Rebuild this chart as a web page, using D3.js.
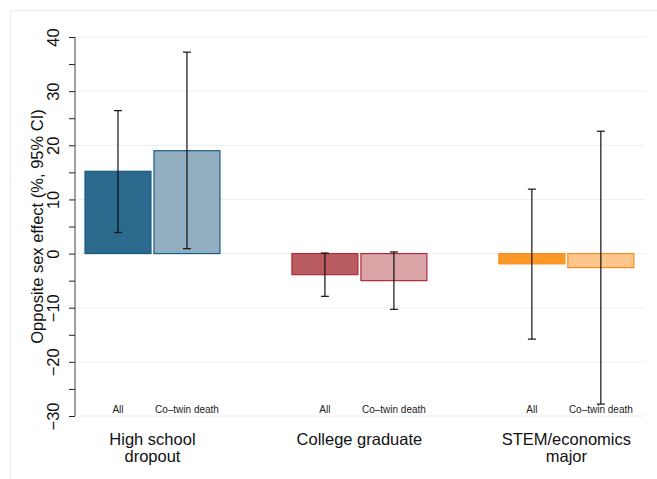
<!DOCTYPE html>
<html>
<head>
<meta charset="utf-8">
<script src="https://cdn.jsdelivr.net/npm/d3@7"></script>
<style>
  body { margin: 0; background: #fff; }
  svg { display: block; font-family: "Liberation Sans", Arial, sans-serif; }
</style>
</head>
<body>
<svg width="657" height="479"></svg>
<script>
const groups = ["High school\ndropout", "College graduate", "STEM/economics\nmajor"];
const subgroups = ["All", "Co\u2013twin death"];
const estimates = [[15.2, 19.0], [-3.9, -5.0], [-1.9, -2.6]];
const ciLow = [[3.9, 0.9], [-7.9, -10.3], [-15.8, -27.8]];
const ciHigh = [[26.4, 37.2], [0.1, 0.3], [11.9, 22.6]];
const yTicks = [-30, -20, -10, 0, 10, 20, 30, 40];

const fills = [["#2b6a8d", "#93aec1"], ["#b85c62", "#dba5a8"], ["#fb9a29", "#fec68a"]];
const strokes = ["#1a5b84", "#b12a3a", "#f98a1e"];

const svg = d3.select("svg");
const plotL = 75, plotR = 645, plotT = 37, plotB = 416;

// frame
svg.append("path")
  .attr("d", "M10.5,479V10.5H657")
  .attr("fill", "none")
  .attr("stroke", "#e6f0f1")
  .attr("stroke-width", 1);

const y = d3.scaleLinear().domain([-30, 40]).range([plotB, plotT]);
// slot positions: each group takes two slots, with one empty slot between groups
const x = d3.scaleLinear().domain([-0.623, 7.64]).range([plotL, plotR]);
const slotW = x(1) - x(0);
const barW = slotW - 3;

// gridlines
svg.append("g")
  .selectAll("line")
  .data(yTicks)
  .join("line")
  .attr("x1", plotL + 1)
  .attr("x2", plotR)
  .attr("y1", d => y(d))
  .attr("y2", d => y(d))
  .attr("stroke", "#e8f0f1")
  .attr("stroke-width", 1);

const rows = [];
groups.forEach((g, gi) => {
  subgroups.forEach((s, si) => {
    rows.push({ gi, si, slot: gi * 3 + si, v: estimates[gi][si], lo: ciLow[gi][si], hi: ciHigh[gi][si] });
  });
});

// bars
svg.append("g")
  .selectAll("rect")
  .data(rows)
  .join("rect")
  .attr("x", d => x(d.slot) - barW / 2)
  .attr("width", barW)
  .attr("y", d => y(Math.max(0, d.v)))
  .attr("height", d => Math.abs(y(d.v) - y(0)))
  .attr("fill", d => fills[d.gi][d.si])
  .attr("stroke", d => strokes[d.gi])
  .attr("stroke-width", 1.2);

// confidence intervals
const ci = svg.append("g").attr("stroke", "#111").attr("stroke-width", 1.2);
rows.forEach(d => {
  const cx = x(d.slot);
  ci.append("line").attr("x1", cx).attr("x2", cx).attr("y1", y(d.lo)).attr("y2", y(d.hi));
  ci.append("line").attr("x1", cx - 4).attr("x2", cx + 4).attr("y1", y(d.lo)).attr("y2", y(d.lo));
  ci.append("line").attr("x1", cx - 4).attr("x2", cx + 4).attr("y1", y(d.hi)).attr("y2", y(d.hi));
});

// y axis
const yAxis = d3.axisLeft(y)
  .tickValues(d3.range(-30, 41, 5))
  .tickSize(6)
  .tickFormat(d => (d % 10 === 0 ? String(d).replace("-", "\u2212") : ""));
const ya = svg.append("g").attr("transform", `translate(${plotL},0)`).call(yAxis);
ya.select(".domain").attr("stroke", "#444").attr("d", `M0,${y(40)}V${y(-30)}`);
ya.selectAll(".tick line").attr("stroke", "#222");
ya.selectAll(".tick text")
  .attr("font-size", 16.5)
  .attr("fill", "#111")
  .attr("text-anchor", "middle")
  .attr("x", 0)
  .attr("y", 0)
  .attr("dy", "0.35em")
  .attr("transform", "translate(-22,0) rotate(-90)");

svg.append("text")
  .attr("transform", `translate(43,${(plotT + plotB) / 2}) rotate(-90)`)
  .attr("text-anchor", "middle")
  .attr("font-size", 16.5)
  .attr("fill", "#111")
  .text("Opposite sex effect (%, 95% CI)");

// subgroup labels
svg.append("g")
  .selectAll("text")
  .data(rows)
  .join("text")
  .attr("x", d => x(d.slot))
  .attr("y", 413)
  .attr("text-anchor", "middle")
  .attr("font-size", 10)
  .attr("fill", "#222")
  .text(d => subgroups[d.si]);

// group labels
groups.forEach((g, gi) => {
  const cx = (x(gi * 3) + x(gi * 3 + 1)) / 2;
  const t = svg.append("text")
    .attr("text-anchor", "middle")
    .attr("font-size", 16.5)
    .attr("fill", "#111");
  g.split("\n").forEach((line, li) => {
    t.append("tspan").attr("x", cx).attr("y", 445 + li * 17).text(line);
  });
});
</script>
</body>
</html>
